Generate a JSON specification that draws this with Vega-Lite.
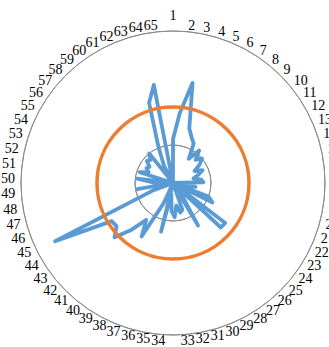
{
  "$schema": "https://vega.github.io/schema/vega-lite/v6.json",
  "width": 329,
  "height": 347,
  "autosize": {"type": "none"},
  "padding": 0,
  "background": "white",
  "config": {"view": {"stroke": null}},
  "datasets": {
    "series": [
      {"k": 1, "v": 1.15}, {"k": 2, "v": 1.85}, {"k": 3, "v": 2.68}, {"k": 4, "v": 1.5}, {"k": 5, "v": 1.3},
      {"k": 6, "v": 1.17}, {"k": 7, "v": 0.76}, {"k": 8, "v": 1.1}, {"k": 9, "v": 0.85}, {"k": 10, "v": 1.0},
      {"k": 11, "v": 0.85}, {"k": 12, "v": 0.65}, {"k": 13, "v": 0.85}, {"k": 14, "v": 0.7}, {"k": 15, "v": 0.55},
      {"k": 16, "v": 0.75}, {"k": 17, "v": 0.8}, {"k": 18, "v": 0.0}, {"k": 19, "v": 0.6}, {"k": 20, "v": 0.0},
      {"k": 21, "v": 1.0}, {"k": 22, "v": 1.16}, {"k": 23, "v": 0.0}, {"k": 24, "v": 1.73}, {"k": 25, "v": 1.72},
      {"k": 26, "v": 0.0}, {"k": 27, "v": 0.4}, {"k": 28, "v": 1.3}, {"k": 29, "v": 0.0}, {"k": 30, "v": 0.75},
      {"k": 31, "v": 0.8}, {"k": 32, "v": 0.6}, {"k": 33, "v": 0.9}, {"k": 34, "v": 0.75}, {"k": 35, "v": 0.3},
      {"k": 36, "v": 1.32}, {"k": 37, "v": 0.0}, {"k": 38, "v": 0.6}, {"k": 39, "v": 1.63}, {"k": 40, "v": 1.2},
      {"k": 41, "v": 1.64}, {"k": 42, "v": 2.1}, {"k": 43, "v": 1.87}, {"k": 44, "v": 1.9}, {"k": 45, "v": 3.46},
      {"k": 46, "v": 0.6}, {"k": 47, "v": 0.0}, {"k": 48, "v": 0.96}, {"k": 49, "v": 0.0}, {"k": 50, "v": 0.5},
      {"k": 51, "v": 0.95}, {"k": 52, "v": 0.0}, {"k": 53, "v": 0.92}, {"k": 54, "v": 0.7}, {"k": 55, "v": 0.8},
      {"k": 56, "v": 0.75}, {"k": 57, "v": 0.9}, {"k": 58, "v": 0.85}, {"k": 59, "v": 1.0}, {"k": 60, "v": 0.0},
      {"k": 61, "v": 0.5}, {"k": 62, "v": 1.0}, {"k": 63, "v": 2.2}, {"k": 64, "v": 2.63}, {"k": 65, "v": 0.0}
    ],
    "rings": [{"r": 1}, {"r": 3}, {"r": 4}],
    "target": [{"r": 2}]
  },
  "layer": [
    {
      "data": {"name": "rings"},
      "mark": {"type": "arc", "filled": false, "stroke": "#8c8c8c", "strokeWidth": 1, "theta": 0, "theta2": 6.2832},
      "encoding": {
        "x": {"datum": 0, "type": "quantitative", "scale": {"domain": [-4.5526, 4.1053], "nice": false, "zero": false}, "axis": null},
        "y": {"datum": 0, "type": "quantitative", "scale": {"domain": [-4.3158, 4.8158], "nice": false, "zero": false}, "axis": null},
        "radius": {"field": "r", "type": "quantitative", "scale": {"type": "linear", "domain": [0, 4], "range": [0, 152], "zero": true}}
      }
    },
    {
      "data": {"name": "series"},
      "transform": [
        {"calculate": "(datum.k - 1) * 2 * PI / 65", "as": "a"},
        {"calculate": "datum.v * sin(datum.a)", "as": "px"},
        {"calculate": "datum.v * cos(datum.a)", "as": "py"}
      ],
      "mark": {"type": "line", "interpolate": "linear-closed", "color": "#5b9bd5", "strokeWidth": 3.8, "strokeJoin": "round", "strokeCap": "round"},
      "encoding": {
        "x": {"field": "px", "type": "quantitative"},
        "y": {"field": "py", "type": "quantitative"},
        "order": {"field": "k", "type": "quantitative"}
      }
    },
    {
      "data": {"name": "target"},
      "mark": {"type": "arc", "filled": false, "stroke": "#ed7d31", "strokeWidth": 3.5, "theta": 0, "theta2": 6.2832},
      "encoding": {
        "x": {"datum": 0, "type": "quantitative"},
        "y": {"datum": 0, "type": "quantitative"},
        "radius": {"field": "r", "type": "quantitative"}
      }
    },
    {
      "data": {"name": "series"},
      "transform": [
        {"filter": "datum.k >= 2 && datum.k <= 33"},
        {"calculate": "(datum.k - 1) * 2 * PI / 65", "as": "a"},
        {"calculate": "4.16 * sin(datum.a)", "as": "lx"},
        {"calculate": "4.16 * cos(datum.a)", "as": "ly"}
      ],
      "mark": {"type": "text", "align": "left", "baseline": "middle", "font": "Liberation Serif", "fontSize": 14, "color": "#000000"},
      "encoding": {
        "x": {"field": "lx", "type": "quantitative"},
        "y": {"field": "ly", "type": "quantitative"},
        "text": {"field": "k", "type": "nominal"}
      }
    },
    {
      "data": {"name": "series"},
      "transform": [
        {"filter": "datum.k >= 34"},
        {"calculate": "(datum.k - 1) * 2 * PI / 65", "as": "a"},
        {"calculate": "4.16 * sin(datum.a)", "as": "lx"},
        {"calculate": "4.16 * cos(datum.a)", "as": "ly"}
      ],
      "mark": {"type": "text", "align": "right", "baseline": "middle", "font": "Liberation Serif", "fontSize": 14, "color": "#000000"},
      "encoding": {
        "x": {"field": "lx", "type": "quantitative"},
        "y": {"field": "ly", "type": "quantitative"},
        "text": {"field": "k", "type": "nominal"}
      }
    },
    {
      "data": {"name": "series"},
      "transform": [
        {"filter": "datum.k == 1"},
        {"calculate": "0", "as": "lx"},
        {"calculate": "4.16", "as": "ly"}
      ],
      "mark": {"type": "text", "align": "center", "baseline": "alphabetic", "dy": -5, "font": "Liberation Serif", "fontSize": 14, "color": "#000000"},
      "encoding": {
        "x": {"field": "lx", "type": "quantitative"},
        "y": {"field": "ly", "type": "quantitative"},
        "text": {"field": "k", "type": "nominal"}
      }
    }
  ]
}
